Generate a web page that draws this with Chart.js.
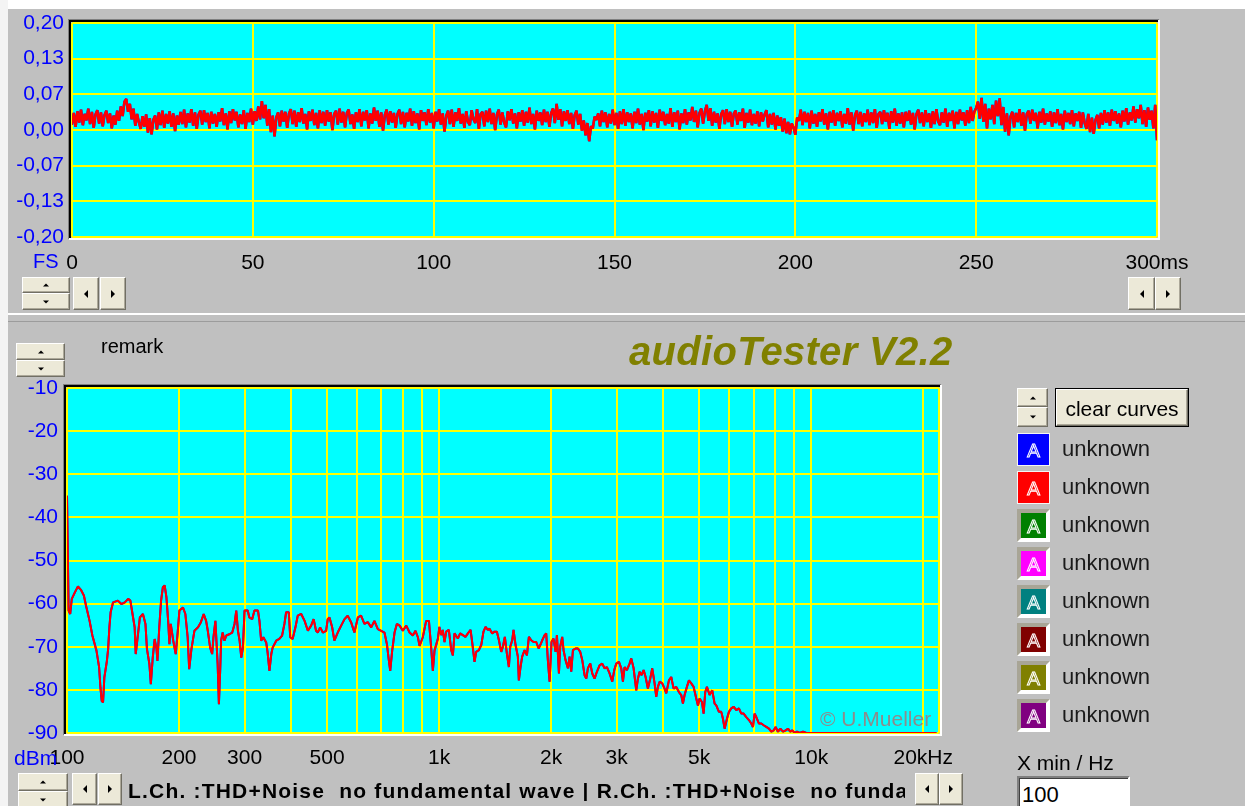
<!DOCTYPE html>
<html>
<head>
<meta charset="utf-8">
<title>audioTester V2.2</title>
<script src="https://cdn.jsdelivr.net/npm/chart.js@4.4.1/dist/chart.umd.min.js"></script>
<style>
  html, body { margin: 0; padding: 0; }
  body {
    width: 1245px; height: 806px; overflow: hidden; position: relative;
    background: #c0c0c0; color: #000;
    font-family: "Liberation Sans", Arial, sans-serif;
  }
  canvas { position: absolute; left: 0; }
  .txt { position: absolute; white-space: pre; line-height: 1; }
  .btn {
    position: absolute; box-sizing: border-box; background: #ece9d8;
    border-style: solid; border-width: 1px;
    border-color: #ffffff #716f64 #716f64 #ffffff;
    box-shadow: inset -1px -1px 0 #aca899;
  }
  .tri { position: absolute; left: 50%; top: 50%; width: 0; height: 0; transform: translate(-50%, -50%); }
  .tri.up    { border-left: 3px solid transparent; border-right: 3px solid transparent; border-bottom: 3px solid #000; }
  .tri.down  { border-left: 3px solid transparent; border-right: 3px solid transparent; border-top: 3px solid #000; }
  .tri.left  { border-top: 4px solid transparent; border-bottom: 4px solid transparent; border-right: 4px solid #000; }
  .tri.right { border-top: 4px solid transparent; border-bottom: 4px solid transparent; border-left: 4px solid #000; }
  .swatch { position: absolute; box-sizing: border-box; width: 33px; height: 33px; }
  .swatch span {
    position: absolute; left: 0; right: 0; top: 50%; transform: translateY(-50%);
    text-align: center; font-size: 19px; line-height: 1;
    color: transparent; -webkit-text-stroke: 1px #ffffff;
  }
</style>
</head>
<body>
<!-- window edges and panel separator -->
<div style="position:absolute;left:0;top:0;width:1245px;height:9px;background:#ffffff"></div>
<div style="position:absolute;left:0;top:0;width:8px;height:806px;background:#f4f4f4"></div>
<div style="position:absolute;left:8px;top:313px;width:1237px;height:2px;background:#ffffff"></div>
<div style="position:absolute;left:8px;top:321px;width:1237px;height:1px;background:#9c9c9c"></div>

<canvas id="timeChart" width="1245" height="300" style="top:0"></canvas>
<canvas id="spectrumChart" width="1245" height="476" style="top:330px"></canvas>

<div class="txt" style="left:33px;top:251px;font-size:20px;color:#0000ff">FS</div>
<div class="txt" style="left:101px;top:336px;font-size:20px">remark</div>
<div class="txt" style="left:629px;top:331px;font-size:40px;font-weight:bold;font-style:italic;color:#808000;letter-spacing:0.3px">audioTester V2.2</div>
<div class="txt" style="left:14px;top:747px;font-size:21px;color:#0000ff">dBm</div>
<div class="txt" style="left:820px;top:708px;font-size:21px;color:#8c8c8c">© U.Mueller</div>
<div class="txt" id="status" style="left:128px;top:780px;width:777px;overflow:hidden;font-size:21px;font-weight:bold;letter-spacing:1.2px"></div>
<div class="txt" style="left:1017px;top:752px;font-size:21px">X min / Hz</div>
<div style="position:absolute;left:1017px;top:776px;width:113px;height:40px;box-sizing:border-box;background:#ffffff;border-style:solid;border-width:2px;border-color:#808080 #ffffff #ffffff #808080;box-shadow:inset 1px 1px 0 #404040"></div>
<div class="txt" style="left:1022px;top:784px;font-size:22px">100</div>

<div id="chrome"></div>

<script>
// ---- time-domain trace (oscilloscope view), full scale units, 0 ... 300 ms ----
const timeSpanMs = 300;
const timeTrace = [
  .010,.032,.006,.035,.014,.038,.009,.030,.018,.040,.011,.034,.004,.029,.037,.012,.033,.007,.028,.036,
  .013,.031,.003,.027,.010,.036,.017,.044,.026,.053,.058,.034,.049,.020,.040,.008,.030,.014,.002,.026,
  .006,.029,-.005,.022,-.008,.019,.027,.001,.033,.009,.036,.004,.030,.012,.035,.006,.031,-.002,.027,.010,
  .034,.011,.038,.005,.031,.014,.039,.008,.033,.002,.029,.036,.010,.037,.015,.032,.003,.034,.012,.030,
  .006,.033,.016,.041,.009,.031,.001,.035,.013,.039,.018,.034,.005,.029,.011,.037,.002,.032,.015,.040,
  .010,.035,.017,.044,.020,.054,.022,.047,.008,.039,-.004,.027,-.012,.024,.033,.007,.036,.016,.034,.004,
  .031,.039,.011,.036,.006,.033,.015,.041,.012,.030,.001,.035,.017,.038,.009,.032,.003,.037,.013,.034,
  .008,.037,.016,.033,.000,.030,.036,.010,.040,.014,.034,.005,.032,.038,.011,.029,.002,.033,.015,.039,
  .007,.034,.018,.037,.003,.031,.012,.042,.017,.036,.006,.033,-.001,.028,.038,.010,.035,.014,.032,.004,
  .030,.038,.011,.034,.005,.032,.016,.040,.008,.035,.013,.031,.001,.037,.017,.033,.009,.039,.014,.032,
  .003,.034,.016,.039,.010,.031,-.003,.027,.036,.011,.038,.006,.033,.017,.041,.012,.030,.004,.035,.015,
  .009,.037,.020,.013,.039,.002,.030,.034,.007,.036,.015,.040,.011,.032,.000,.029,.038,.010,.033,.014,
  .005,.035,.018,.039,.012,.031,.003,.033,.016,.037,.008,.034,.014,.042,.011,.030,.001,.036,.017,.033,
  .009,.038,.015,.034,.006,.032,.040,.013,.049,.019,.039,.007,.035,.017,.037,.011,.032,.002,.028,.036,
  .010,.030,-.001,.018,-.010,.013,-.021,.007,.003,.025,.019,.031,.007,.036,.015,.033,.005,.030,.012,.038,
  .009,.032,.002,.035,.011,.039,.008,.033,.015,.031,.003,.034,.013,.040,.010,.030,.000,.032,.016,.037,
  .007,.035,.014,.032,.004,.038,.017,.034,.009,.030,.012,.041,.006,.033,.015,.036,.001,.031,.013,.039,
  .010,.033,.018,.043,.015,.036,.005,.032,.040,.012,.035,.047,.017,.041,.008,.034,.014,.031,.002,.030,
  .037,.011,.039,.015,.034,.006,.031,.036,.010,.033,.017,.040,.004,.032,.014,.038,.009,.030,.012,.035,
  .007,.033,.016,.029,.037,.005,.030,.010,.032,.001,.027,.008,.024,-.003,.021,-.006,.015,-.008,.012,.005,
  -.009,.023,.017,.038,.009,.034,.015,.032,.003,.036,.012,.030,.006,.033,.016,.039,.010,.031,.001,.034,
  .014,.037,.008,.032,.017,.035,.005,.030,.012,.041,.010,.033,-.001,.028,.036,.011,.034,.007,.031,.015,
  .038,.009,.033,.013,.039,.004,.030,.034,.011,.037,.016,.032,.002,.035,.014,.040,.008,.031,.012,.033,
  .005,.034,.017,.036,.010,.032,.001,.030,.038,.013,.033,.007,.037,.015,.031,.004,.035,.011,.039,.016,
  .009,.033,.014,.040,.006,.032,.017,.036,.003,.034,.011,.038,.018,.033,.008,.037,.013,.043,.017,.034,
  .041,.053,.021,.060,.015,.049,.003,.040,.020,.047,.011,.055,.026,.059,.009,.043,-.003,.031,-.010,.025,
  .034,.005,.032,.015,.039,.008,.033,-.001,.030,.036,.012,.038,.017,.032,.003,.034,.014,.040,.010,.031,
  .016,.035,.006,.033,.013,.039,.009,.030,.001,.036,.015,.032,.011,.037,.007,.031,.017,.034,.004,.033,
  .013,.002,.030,-.004,.023,-.007,.019,.028,.003,.032,.010,.037,.014,.033,.008,.038,.017,.035,.012,.031,
  .005,.036,.016,.041,.010,.033,.018,.044,.014,.039,.022,.047,.011,.037,.006,.042,.019,.036,.003,.047,
  -.019
];
const timeTicksMs = [0, 50, 100, 150, 200, 250, 300];
const timeTickLabels = ['0', '50', '100', '150', '200', '250', '300ms'];
const levelTicksFS = [-0.2, -0.1333, -0.0667, 0, 0.0667, 0.1333, 0.2];
const levelTickLabels = ['-0,20', '-0,13', '-0,07', '0,00', '0,07', '0,13', '0,20'];

// ---- spectrum (THD+N residual), frequency in Hz and level in dBm ----
const specFreqHz = [
  100,101,102,103,105,107,109,111,112.5,115,117,120,122,123,124,125,126,128,129,130,
  131,133,137,140,143,146,148,150,152,153,155,157,160,162.5,164,166.5,168,170,172,174,
  175,177,179,181,183,185,187,188.5,190,193,196,198.5,200.5,205,208,211,213,216,220,225,
  229,233,236.5,239,242.5,245.5,247.5,250.5,254,256,258,259.5,262,265,268,273,278,282,285,288,
  291,294,297,300,306,309,314.5,319,326,329,332.5,337,343,346,350,354,357,365,372,378.5,
  384,388,394.5,398,404,411,417,426,435,444,453,460,467,472,479,487,497,502,507.5,516,
  523,534,545.5,557,568,580,592,605,617,630,643,657,670,684.5,699,713,724,733,739,748,
  759,770,783,799,816,833,850,864,877,886,904,923,939,952,962,972,992,
  1002,1013,1023,1034,1045,1062,1078,1089,1100,1123,1139,1158,1177,1195,1215,1227,1245,1258,1279,1298,
  1316,1333,1352,1366,1389,1409,1430,1448,1469,1484,1502,1521,1540,1553,1572,1585,1605,1628,1638,1655,
  1672,1697,1722,1743,1768,1794,1824,1851,1870,1893,1921,1940,1960,1981,2005,2030,2056,2073,2099,2116,
  2142,2160,2187,2219,2242,2265,2289,2327,2361,2395,2425,2460,2486,2511,2548,2580,2617,2655,2699,2744,
  2784,2825,2872,2920,2956,2993,3043,3087,3119,3151,3197,3250,3284,3332,3387,3422,3458,3501,3545,3589,
  3640,3693,3739,3794,3833,3873,3913,3978,4036,4078,4146,4206,4267,4338,4410,4474,4521,4568,4634,4692,
  4760,4830,4910,4961,5012,5085,5138,5191,5245,5333,5421,5500,5557,5650,5732,5791,5852,5937,6010,6098,
  6187,6290,6394,6487,6582,6691,6803,6902,6973,7046,7119,7237,7343,7450,7574,7700,7812,7925,8024,8141,
  8260,8397,8537,8661,8787,8897,9026,9158,9310,9504,9702,21700
];
const specLevelDbm = [
  -35,-61.6,-62.4,-58.9,-57.4,-56,-56.8,-58.1,-60.5,-64,-67.4,-70.9,-74.8,-79.5,-82.6,-82.9,-77.1,-73.3,-70.5,-65.5,
  -62,-59.7,-59.3,-60.1,-59.7,-58.9,-59.3,-62.4,-65.5,-71.7,-67.4,-63.2,-62.4,-64.7,-70.5,-74,-78.7,-72.5,-68.2,-70.5,
  -73.3,-65.5,-59.3,-56.2,-55.8,-58.5,-64,-69.4,-64.7,-68.6,-71.7,-66.3,-61.6,-60.9,-62.4,-67.8,-75.2,-70.5,-66.3,-65.5,
  -64.3,-62.4,-64,-66.3,-70.2,-71.7,-67.8,-64,-74,-83.3,-75.6,-68.6,-66.7,-68.6,-67.4,-67.1,-66.7,-64.7,-61.6,-66.3,
  -68.6,-72.5,-70.2,-61.6,-61.6,-63.2,-63.6,-61.6,-61.6,-64,-68.6,-67.8,-69,-71.3,-75.6,-71.7,-70.2,-68.6,-68.2,-67.4,
  -64.7,-62,-62,-67.8,-68.2,-65.5,-62.8,-62.4,-64,-66.3,-65.1,-63.6,-66.3,-66.7,-65.5,-66.7,-66.3,-63.6,-63.2,-65.5,
  -68.6,-66.7,-65.1,-63.6,-62.8,-64.3,-66.7,-63.2,-62.8,-64.7,-64.3,-65.5,-64,-65.9,-66.3,-66.7,-69.4,-73.3,-75.6,-70.9,
  -66.7,-64.7,-65.1,-66.3,-65.1,-66.7,-67.4,-66.3,-67.8,-69.8,-67.8,-64,-64,-70.2,-75.6,-70.9,-68.2,
  -65.4,-67.3,-66.1,-68.9,-66.5,-66.1,-70.8,-72,-66.9,-68.1,-66.9,-67.3,-67.7,-66.9,-66.1,-68.9,-73.5,-71.2,-70.8,-69.6,
  -66.5,-65.4,-66.1,-65.8,-66.9,-66.5,-66.5,-68.5,-71.2,-70,-67.7,-71.6,-74.7,-70,-68.5,-66.1,-69.6,-72.3,-77.8,-74.7,
  -72.3,-70.8,-72,-67.7,-68.5,-68.9,-68.9,-70.4,-69.6,-68.5,-67.3,-66.9,-73.1,-78.1,-68.9,-68.1,-71.2,-67.3,-76.2,-70,
  -67.7,-70.8,-73.1,-75,-72.3,-75.8,-70.8,-70.4,-70.4,-71.2,-73.1,-76.6,-77.4,-75,-73.9,-76.2,-77.4,-75.8,-74.3,-73.9,
  -75,-74.7,-76.2,-78.1,-75.4,-73.9,-73.5,-75,-78.1,-74.7,-75.4,-73.9,-72.7,-75,-80.1,-77.4,-75.8,-76.6,-75.4,-77,
  -79.7,-77.4,-75,-78.5,-81.6,-79.3,-78.1,-78.5,-79.7,-80.8,-77.8,-77,-79.7,-79.3,-80.5,-81.2,-83.2,-81.2,-79.3,-77.8,
  -78.5,-79.3,-82,-83.6,-82,-82.8,-85.5,-80.5,-79.3,-81.2,-80.1,-83.2,-83.6,-85.1,-85.1,-86.7,-89,-86.7,-85.1,-84.3,
  -83.9,-84.7,-84.3,-85.5,-85.5,-86.3,-87,-87.8,-88.6,-85.5,-86.3,-87.8,-87.8,-88.2,-88.6,-89,-89.7,-89.4,-88.6,-89.7,
  -89,-89.7,-89.4,-89,-89.7,-89.4,-90,-89.7,-90,-89.7,-90,-90
];
const freqGridHz = [100,200,300,400,500,600,700,800,900,1000,2000,3000,4000,5000,6000,7000,8000,9000,10000,20000,22050];
const freqTickLabels = { 100: '100', 200: '200', 300: '300', 500: '500', 1000: '1k', 2000: '2k', 3000: '3k', 5000: '5k', 10000: '10k', 20000: '20kHz' };
const dbmTicks = [-90, -80, -70, -60, -50, -40, -30, -20, -10];

// ---- curve memory list ----
const curveColors = ['#0000ff', '#ff0000', '#008000', '#ff00ff', '#008080', '#800000', '#808000', '#800080'];
const curveNames = ['unknown', 'unknown', 'unknown', 'unknown', 'unknown', 'unknown', 'unknown', 'unknown'];
const statusLine = 'L.Ch. :THD+Noise  no fundamental wave | R.Ch. :THD+Noise  no fundamental wave';

const PLAIN = '"Liberation Sans", Arial, sans-serif';
const GRID = { color: '#ffff00', lineWidth: 2, drawTicks: false };

// cyan plot face with a sunken 3D frame around it
const plotFace = {
  id: 'plotFace',
  beforeDraw(chart) {
    const { ctx, chartArea: a } = chart;
    const w = a.right - a.left, h = a.bottom - a.top;
    ctx.save();
    ctx.fillStyle = '#00ffff';
    ctx.fillRect(a.left, a.top, w, h);
    ctx.fillStyle = '#808080';
    ctx.fillRect(a.left - 4, a.top - 4, w + 6, 1);
    ctx.fillRect(a.left - 4, a.top - 4, 1, h + 6);
    ctx.fillStyle = '#000000';
    ctx.fillRect(a.left - 3, a.top - 3, w + 4, 2);
    ctx.fillRect(a.left - 3, a.top - 3, 2, h + 4);
    ctx.fillStyle = '#ffffff';
    ctx.fillRect(a.right + 1, a.top - 3, 2, h + 6);
    ctx.fillRect(a.left - 3, a.bottom + 1, w + 6, 2);
    ctx.restore();
  }
};

const common = {
  responsive: false,
  animation: false,
  devicePixelRatio: 1,
  events: [],
  plugins: { legend: { display: false }, tooltip: { enabled: false } }
};
const lineStyle = { borderWidth: 2, pointRadius: 0, tension: 0, borderJoinStyle: 'bevel', fill: false };

// ---- oscilloscope chart ----
const timePoints = timeTrace.map((v, i) => ({ x: i * timeSpanMs / (timeTrace.length - 1), y: v }));
new Chart(document.getElementById('timeChart'), {
  type: 'line',
  data: {
    datasets: [
      Object.assign({ label: 'R.Ch.', data: timePoints, borderColor: '#ff0000', order: 0 }, lineStyle, { borderWidth: 2.5 }),
      Object.assign({ label: 'L.Ch.', data: timePoints, borderColor: '#0000ff', order: 1 }, lineStyle, { borderWidth: 2.5 })
    ]
  },
  options: Object.assign({}, common, {
    layout: { padding: { left: 0, top: 23, right: 88, bottom: 0 } },
    scales: {
      x: {
        type: 'linear', min: 0, max: timeSpanMs,
        afterBuildTicks: s => { s.ticks = timeTicksMs.map(v => ({ value: v })); },
        afterFit: s => { s.height = 63; },
        grid: GRID, border: { display: false },
        ticks: {
          color: '#000000', font: { family: PLAIN, size: 21 }, padding: 14,
          maxRotation: 0, autoSkip: false,
          callback: v => timeTickLabels[timeTicksMs.indexOf(v)]
        }
      },
      y: {
        min: -0.2, max: 0.2,
        afterBuildTicks: s => { s.ticks = levelTicksFS.map(v => ({ value: v })); },
        afterFit: s => { s.width = 72; },
        grid: GRID, border: { display: false },
        ticks: {
          color: '#0000ff', font: { family: PLAIN, size: 21 }, padding: 8,
          callback: v => levelTickLabels[levelTicksFS.indexOf(v)]
        }
      }
    }
  }),
  plugins: [plotFace]
});

// ---- spectrum chart ----
const specPoints = specFreqHz.map((f, i) => ({ x: f, y: specLevelDbm[i] }));
new Chart(document.getElementById('spectrumChart'), {
  type: 'line',
  data: {
    datasets: [
      Object.assign({ label: 'R.Ch.', data: specPoints, borderColor: '#ff0000', order: 0 }, lineStyle),
      Object.assign({ label: 'L.Ch.', data: specPoints, borderColor: '#0000ff', order: 1 }, lineStyle)
    ]
  },
  options: Object.assign({}, common, {
    layout: { padding: { left: 0, top: 58, right: 306, bottom: 0 } },
    scales: {
      x: {
        type: 'logarithmic', min: 100, max: 22050,
        afterBuildTicks: s => { s.ticks = freqGridHz.map(v => ({ value: v })); },
        afterFit: s => { s.height = 73; },
        grid: GRID, border: { display: false },
        ticks: {
          color: '#000000', font: { family: PLAIN, size: 21 }, padding: 13,
          maxRotation: 0, minRotation: 0, autoSkip: false,
          callback: v => freqTickLabels[v] || ''
        }
      },
      y: {
        min: -90, max: -10,
        afterBuildTicks: s => { s.ticks = dbmTicks.map(v => ({ value: v })); },
        afterFit: s => { s.width = 67; },
        grid: GRID, border: { display: false },
        ticks: {
          color: '#0000ff', font: { family: PLAIN, size: 21 }, padding: 9,
          callback: v => String(v)
        }
      }
    }
  }),
  plugins: [plotFace]
});

// ---- window controls ----
const chrome = document.getElementById('chrome');
function addButton(x, y, w, h, arrow) {
  const b = document.createElement('div');
  b.className = 'btn';
  Object.assign(b.style, { left: x + 'px', top: y + 'px', width: w + 'px', height: h + 'px' });
  if (arrow) {
    const t = document.createElement('div');
    t.className = 'tri ' + arrow;
    b.appendChild(t);
  }
  chrome.appendChild(b);
  return b;
}
function addSpin(x, y, w, h) {
  const half = Math.floor(h / 2);
  addButton(x, y, w, half, 'up');
  addButton(x, y + half, w, h - half, 'down');
}
addSpin(22, 277, 48, 33);
addButton(73, 277, 26, 33, 'left');
addButton(100, 277, 26, 33, 'right');
addButton(1128, 277, 27, 33, 'left');
addButton(1155, 277, 26, 33, 'right');
addSpin(16, 343, 49, 34);
addSpin(18, 773, 50, 36);
addButton(72, 773, 25, 32, 'left');
addButton(98, 773, 24, 32, 'right');
addButton(915, 773, 24, 32, 'left');
addButton(939, 773, 24, 32, 'right');
addSpin(1017, 388, 31, 39);

const clear = addButton(1056, 389, 132, 37);
clear.style.outline = '1px solid #000';
clear.innerHTML = '<div class="txt" style="left:0;right:0;top:8px;text-align:center;font-size:21px">clear curves</div>';

curveColors.forEach((c, i) => {
  const top = 433 + 38 * i;
  const sw = document.createElement('div');
  sw.className = 'swatch';
  sw.style.left = '1017px';
  sw.style.top = top + 'px';
  sw.style.background = c;
  if (i < 2) {
    sw.style.border = '1px solid #f4f4f4';
  } else {
    sw.style.borderStyle = 'solid';
    sw.style.borderWidth = '4px';
    sw.style.borderColor = '#a8a596 #ffffff #ffffff #a8a596';
  }
  sw.innerHTML = '<span>A</span>';
  chrome.appendChild(sw);
  const label = document.createElement('div');
  label.className = 'txt';
  Object.assign(label.style, { left: '1062px', top: (top + 5) + 'px', fontSize: '22px', color: '#1a1a1a' });
  label.textContent = curveNames[i];
  chrome.appendChild(label);
});

document.getElementById('status').textContent = statusLine;
</script>
</body>
</html>
